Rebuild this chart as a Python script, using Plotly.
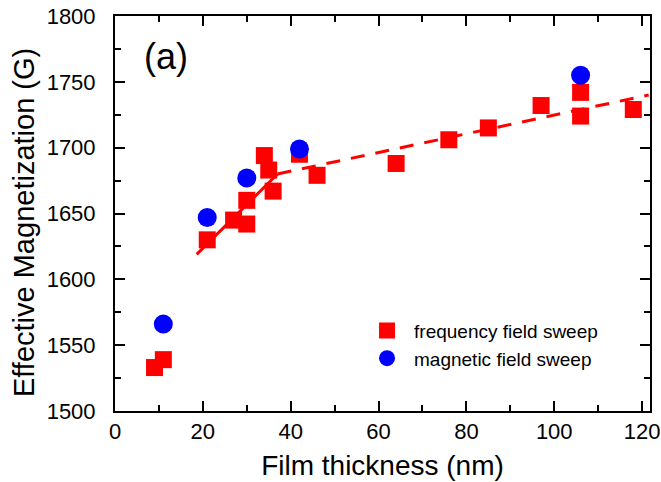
import plotly.graph_objects as go

# Data
freq_x = [9, 11, 21, 27, 30, 30, 34, 35, 36, 42, 46, 64, 76, 85, 97, 106, 106, 118]
freq_y = [1533, 1539, 1630, 1645, 1642, 1660, 1694, 1683, 1667, 1695, 1679, 1688, 1706, 1715, 1732, 1742, 1724, 1729]
mag_x = [11, 21, 30, 42, 106]
mag_y = [1566, 1647, 1677, 1699, 1755]

fit1_x = [18.6, 37]
fit1_y = [1619, 1680]
fit2_x = [37, 121.5]
fit2_y = [1680, 1740]

x_ticks = [0, 20, 40, 60, 80, 100, 120]
y_ticks = [1500, 1550, 1600, 1650, 1700, 1750, 1800]

FONT = "Liberation Sans, Arial, sans-serif"

fig = go.Figure()
fig.add_trace(go.Scatter(x=fit1_x, y=fit1_y, mode="lines",
                         line=dict(color="#ff0000", width=3), showlegend=False, hoverinfo="skip"))
fig.add_trace(go.Scatter(x=fit2_x, y=fit2_y, mode="lines",
                         line=dict(color="#ff0000", width=3, dash="14px,11px"), showlegend=False, hoverinfo="skip"))
fig.add_trace(go.Scatter(x=freq_x, y=freq_y, mode="markers", name="frequency field sweep",
                         marker=dict(symbol="square", size=17, color="#ff0000", line=dict(width=0))))
fig.add_trace(go.Scatter(x=mag_x, y=mag_y, mode="markers", name="magnetic field sweep",
                         marker=dict(symbol="circle", size=19, color="#0000ff", line=dict(width=0))))

axis_common = dict(showgrid=False, zeroline=False, showline=True, linecolor="black", linewidth=2,
                   mirror="ticks", ticks="inside", ticklen=10, tickwidth=2, tickcolor="black",
                   automargin=False, ticklabeloverflow="allow",
                   tickfont=dict(family=FONT, size=22, color="black"))

fig.update_xaxes(range=[0, 121.8], tickvals=x_ticks, ticktext=[str(v) for v in x_ticks],
                 minor=dict(dtick=10, tick0=0, ticks="inside", ticklen=6, tickwidth=2, tickcolor="black", showgrid=False),
                 title=dict(text="Film thickness (nm)", font=dict(family=FONT, size=28, color="black"), standoff=12),
                 **axis_common)
fig.update_yaxes(range=[1500, 1800], tickvals=y_ticks, ticktext=[str(v) for v in y_ticks],
                 minor=dict(dtick=25, tick0=1500, ticks="inside", ticklen=6, tickwidth=2, tickcolor="black", showgrid=False),
                 ticklabelstandoff=13,
                 **axis_common)

# y-axis title (placed as a rotated annotation to match the reference's offset)
fig.add_annotation(x=-0.170, y=0.476, xref="paper", yref="paper", text="Effective Magnetization (G)",
                   textangle=-90, showarrow=False, xanchor="center", yanchor="middle",
                   font=dict(family=FONT, size=29, color="black"))

fig.add_annotation(x=0.05, y=0.897, xref="paper", yref="paper", text="(a)", showarrow=False,
                   xanchor="left", yanchor="middle", font=dict(family=FONT, size=36, color="black"))

fig.update_layout(
    width=661, height=482,
    margin=dict(l=115, r=11, t=16, b=71),
    paper_bgcolor="white", plot_bgcolor="white",
    font=dict(family=FONT, color="black"),
    legend=dict(x=0.458, y=0.168, xanchor="left", yanchor="middle", bgcolor="rgba(0,0,0,0)",
                font=dict(family=FONT, size=19, color="black"), tracegroupgap=0,
                itemsizing="trace", itemwidth=44),
)

# remove the default page margin so the figure sits at the window's top-left corner
post = ("document.documentElement.style.margin='0';document.documentElement.style.overflow='hidden';"
        "document.body.style.margin='0';document.body.style.padding='0';document.body.style.overflow='hidden';")
fig.write_html("out.html", post_script=post, config={"displayModeBar": False})
